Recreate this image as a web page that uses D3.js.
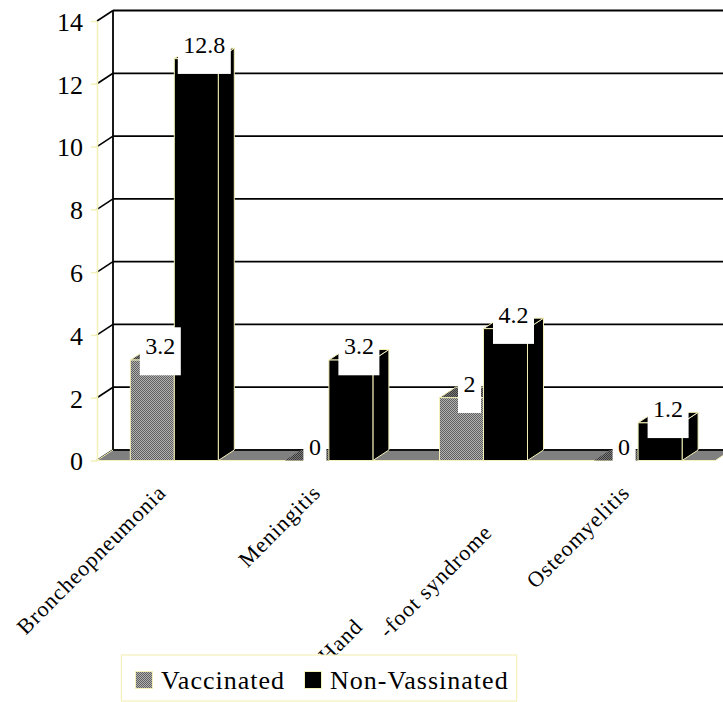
<!DOCTYPE html>
<html>
<head>
<meta charset="utf-8">
<script src="https://cdn.jsdelivr.net/npm/d3@7"></script>
<style>
  html, body { margin: 0; padding: 0; background: #fff; }
  svg { display: block; font-family: "Liberation Serif", "Times New Roman", serif; }
</style>
</head>
<body>
<svg id="chart" width="723" height="702"></svg>
<script>
// ---- data ----
const categories = ["Broncheopneumonia", "Meningitis", "Hand-foot syndrome", "Osteomyelitis"];
const categoryLines = [["Broncheopneumonia"], ["Meningitis"], ["Hand", "-foot syndrome"], ["Osteomyelitis"]];
const seriesNames = ["Vaccinated", "Non-Vassinated"];
const vaccinated = [3.2, 0, 2, 0];
const nonVaccinated = [12.8, 3.2, 4.2, 1.2];
const yTicks = [0, 2, 4, 6, 8, 10, 12, 14];

// ---- layout ----
const W = 723, H = 702;
const depthX = 16, depthY = -10.5;     // oblique offset of the 3-D back plane
const edge = "#f4f1b8";                // pale outline used for bars, floor and axis
const svg = d3.select("#chart");
const defs = svg.append("defs");

function checker(id, dark, light) {
  const p = defs.append("pattern").attr("id", id)
    .attr("width", 2).attr("height", 2).attr("patternUnits", "userSpaceOnUse");
  p.append("rect").attr("width", 2).attr("height", 2).attr("fill", light);
  p.append("rect").attr("width", 1).attr("height", 1).attr("fill", dark);
  p.append("rect").attr("x", 1).attr("y", 1).attr("width", 1).attr("height", 1).attr("fill", dark);
}
checker("vacFront", "#5e5e5e", "#b2b2b2");
checker("vacTop", "#383838", "#7c7c7c");

const y = d3.scaleLinear().domain([0, 14]).range([460.5, 21]);
const x0 = d3.scaleBand().domain(categories).range([97, 715.4]);
const x1 = d3.scaleBand().domain(seriesNames).range([0, x0.bandwidth()]).paddingOuter(0.757);
const left = x0.range()[0], right = x0.range()[1];

// ---- walls and gridlines ----
const walls = svg.append("g");
walls.selectAll("line.grid").data(yTicks).join("line")
  .attr("x1", left + depthX).attr("x2", W)
  .attr("y1", d => y(d) + depthY).attr("y2", d => y(d) + depthY)
  .attr("stroke", "#000").attr("stroke-width", 1.8);
walls.selectAll("line.diag").data(yTicks).join("line")
  .attr("x1", left).attr("x2", left + depthX)
  .attr("y1", d => y(d)).attr("y2", d => y(d) + depthY)
  .attr("stroke", "#000").attr("stroke-width", 1.6);
walls.append("line")
  .attr("x1", left + depthX).attr("x2", left + depthX)
  .attr("y1", y(14) + depthY).attr("y2", y(0) + depthY)
  .attr("stroke", "#000").attr("stroke-width", 1.8);

// ---- floor ----
const floorPts = [[left, y(0)], [right, y(0)], [right + depthX, y(0) + depthY], [left + depthX, y(0) + depthY]];
svg.append("polygon").attr("points", floorPts.map(p => p.join(",")).join(" "))
  .attr("fill", "#808080").attr("stroke", edge).attr("stroke-width", 1);
svg.append("line")
  .attr("x1", left + depthX).attr("x2", W)
  .attr("y1", y(0) + depthY).attr("y2", y(0) + depthY)
  .attr("stroke", "#111").attr("stroke-width", 2);

// ---- value axis ----
const axis = svg.append("g").attr("transform", `translate(${left},0)`)
  .call(d3.axisLeft(y).tickValues(yTicks).tickSize(6).tickSizeOuter(0).tickPadding(8).tickFormat(d3.format("d")));
axis.select(".domain").attr("stroke", edge).attr("stroke-width", 1.5);
axis.selectAll(".tick line").attr("stroke", edge).attr("stroke-width", 1.5);
axis.selectAll(".tick text").attr("font-size", 26).attr("fill", "#000")
  .attr("font-family", "Liberation Serif, Times New Roman, serif").attr("dy", "0.36em");

// ---- bars ----
const bw = x1.bandwidth();
const bars = [];
categories.forEach((c, i) => {
  bars.push({ cat: c, s: seriesNames[0], v: vaccinated[i] });
  bars.push({ cat: c, s: seriesNames[1], v: nonVaccinated[i] });
});
const poly = pts => pts.map(p => p.join(",")).join(" ");
const barG = svg.append("g");
bars.forEach(b => {
  const x = x0(b.cat) + x1(b.s), yt = y(b.v), yb = y(0);
  const isVac = b.s === seriesNames[0];
  const g = barG.append("g").attr("stroke", edge).attr("stroke-width", 1).attr("stroke-linejoin", "round");
  if (b.v > 0) {
    g.append("polygon")
      .attr("points", poly([[x + bw, yt], [x + bw + depthX, yt + depthY], [x + bw + depthX, yb + depthY], [x + bw, yb]]))
      .attr("fill", isVac ? "url(#vacTop)" : "#000");
  }
  g.append("polygon")
    .attr("points", poly([[x, yt], [x + depthX, yt + depthY], [x + bw + depthX, yt + depthY], [x + bw, yt]]))
    .attr("fill", isVac ? "url(#vacTop)" : "#000")
    .attr("stroke", b.v > 0 ? edge : "none");
  if (b.v > 0) {
    g.append("rect").attr("x", x).attr("y", yt).attr("width", bw).attr("height", yb - yt)
      .attr("fill", isVac ? "url(#vacFront)" : "#000");
  }
});

// ---- value labels ----
const labG = svg.append("g");
bars.forEach(b => {
  const x = x0(b.cat) + x1(b.s);
  const cx = x + bw / 2 + depthX / 2;
  const cy = y(b.v) + depthY / 2 - 3.5;
  const g = labG.append("g");
  const t = g.append("text").attr("x", cx).attr("y", cy - 24 + 27)
    .attr("text-anchor", "middle").attr("font-size", 24).attr("fill", "#000")
    .text(d3.format("~g")(b.v));
  const tw = t.node().getComputedTextLength();
  g.insert("rect", "text").attr("x", cx - tw / 2 - 5.5).attr("y", cy - 24)
    .attr("width", tw + 11).attr("height", 48).attr("fill", "#fff");
});

// ---- category labels ----
const catG = svg.append("g");
categories.forEach((c, i) => {
  const g = catG.append("g")
    .attr("transform", `translate(${x0(c) + x0.bandwidth() / 2 - 7},494) rotate(-45)`);
  const lines = categoryLines[i];
  const style = t => t.attr("font-size", 22).attr("letter-spacing", "1px").attr("fill", "#000").attr("text-anchor", "end");
  if (lines.length === 1) {
    style(g.append("text").attr("x", 0).attr("y", 0).text(lines[0]));
  } else {
    // second line carries the tail of the name; first line ends just before it starts
    const t2 = style(g.append("text").attr("x", -16).attr("y", 40).text(lines[1]));
    const w2 = t2.node().getComputedTextLength();
    style(g.append("text").attr("x", -16 - w2 - 9).attr("y", 15).text(lines[0]));
  }
});

// ---- legend ----
const leg = svg.append("g");
const legendFill = ["url(#vacFront)", "#000"];
const sw = 17, gapText = 8.5, gapItem = 19.5, legY = 671.5;
const texts = seriesNames.map(n => {
  const t = leg.append("text").attr("font-size", 26).attr("letter-spacing", "1px").attr("fill", "#000").text(n);
  return { t, w: t.node().getComputedTextLength() };
});
const secondSwatchX = 304.5;
const firstSwatchX = secondSwatchX - gapItem - texts[0].w - gapText - sw;
const swatchXs = [firstSwatchX, secondSwatchX];
seriesNames.forEach((n, i) => {
  leg.append("rect").attr("x", swatchXs[i]).attr("y", legY).attr("width", sw).attr("height", sw)
    .attr("fill", legendFill[i]).attr("stroke", edge).attr("stroke-width", 1);
  texts[i].t.attr("x", swatchXs[i] + sw + gapText).attr("y", legY + 17);
});
leg.insert("rect", ":first-child")
  .attr("x", firstSwatchX - 14).attr("y", 655)
  .attr("width", secondSwatchX + sw + gapText + texts[1].w + 8 - (firstSwatchX - 14)).attr("height", 46)
  .attr("fill", "#fff").attr("stroke", edge).attr("stroke-width", 1.2);
</script>
</body>
</html>
